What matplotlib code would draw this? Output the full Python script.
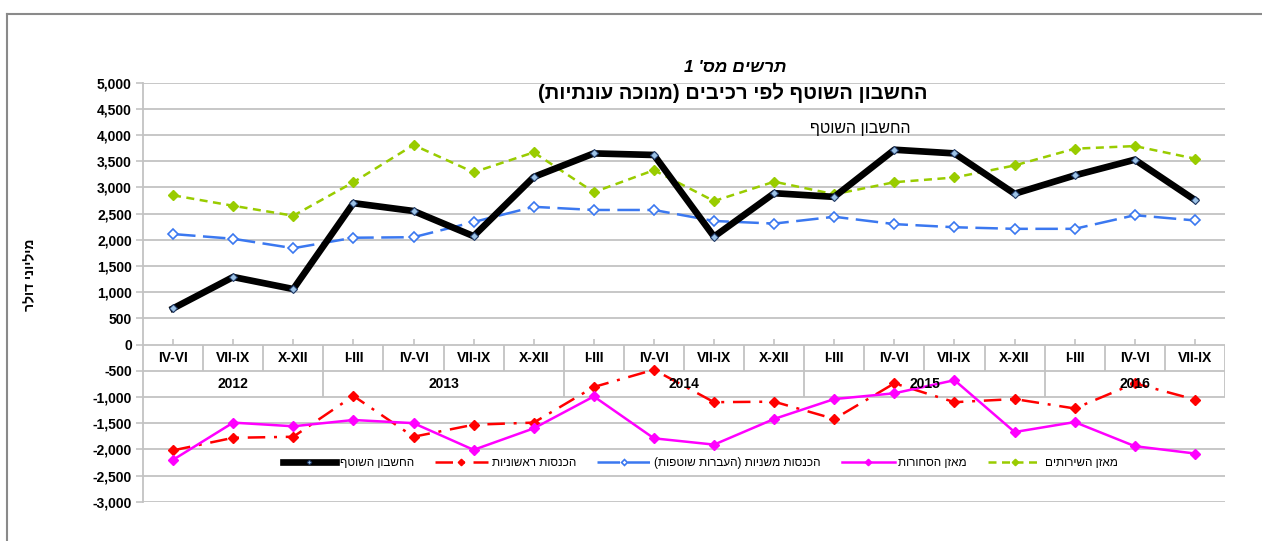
import numpy as np
import matplotlib
matplotlib.use("Agg")
import matplotlib.pyplot as plt
from matplotlib.lines import Line2D

plt.rcParams['font.family'] = ['Liberation Sans', 'DejaVu Sans']

# quarters and years (x axis table)
quarters = ["IV-VI", "VII-IX", "X-XII",
            "I-III", "IV-VI", "VII-IX", "X-XII",
            "I-III", "IV-VI", "VII-IX", "X-XII",
            "I-III", "IV-VI", "VII-IX", "X-XII",
            "I-III", "IV-VI", "VII-IX"]
years = ["2012", "2013", "2014", "2015", "2016"]
year_counts = [3, 4, 4, 4, 3]

# millions of dollars, seasonally adjusted
current_account = [690, 1290, 1060, 2700, 2550, 2070, 3200, 3650, 3620,
                   2060, 2890, 2820, 3720, 3650, 2880, 3230, 3530, 2760]
primary_income = [-2020, -1780, -1760, -980, -1760, -1530, -1490, -810, -480,
                  -1100, -1090, -1420, -740, -1100, -1040, -1220, -740, -1050]
secondary_income = [2110, 2020, 1840, 2040, 2050, 2340, 2630, 2570, 2570,
                    2360, 2310, 2440, 2300, 2240, 2210, 2210, 2470, 2370]
goods_balance = [-2200, -1490, -1560, -1440, -1500, -2010, -1600, -990, -1790,
                 -1910, -1420, -1040, -930, -680, -1670, -1480, -1940, -2080]
services_balance = [2850, 2650, 2460, 3100, 3810, 3290, 3670, 2910, 3330,
                    2740, 3110, 2870, 3100, 3190, 3420, 3740, 3790, 3550]


def heb(s):
    # matplotlib has no bidi support: reverse and mirror brackets
    return s[::-1].translate(str.maketrans("()", ")("))


fig = plt.figure(figsize=(12.62, 5.41), dpi=100)
ax = fig.add_axes([143 / 1262, 1 - 501.7 / 541, (1225 - 143) / 1262, 419 / 541])

x = np.arange(len(quarters))
grid_c = "#c3c3c3"

ax.plot(x, current_account, color="black", lw=4.8, marker="D", ms=3.8,
        mfc="#9dc3e6", mec="#1f3864", mew=0.8, label=heb("החשבון השוטף"), zorder=5)
ax.plot(x, primary_income, color="#ff0000", lw=1.8, marker="D", ms=5.5,
        dashes=(7, 3.5, 1.2, 3.5), label=heb("הכנסות ראשוניות"), zorder=4)
ax.plot(x, secondary_income, color="#3b78f0", lw=1.8, marker="D", ms=5,
        mfc="white", mec="#3b78f0", mew=1.2, dashes=(9, 3),
        label=heb("הכנסות משניות (העברות שוטפות)"), zorder=4)
ax.plot(x, goods_balance, color="#ff00ff", lw=1.8, marker="D", ms=5.5,
        label=heb("מאזן הסחורות"), zorder=4)
ax.plot(x, services_balance, color="#99cc00", lw=1.8, marker="D", ms=5.5,
        dashes=(3.2, 2.2), label=heb("מאזן השירותים"), zorder=4)

ax.set_xlim(-0.5, len(quarters) - 0.5)
ax.set_ylim(-3000, 5000)
ax.set_yticks(np.arange(-3000, 5001, 500))
ax.set_yticklabels([f"{v:,}" for v in range(-3000, 5001, 500)],
                   fontsize=10, fontweight="bold")
ax.tick_params(axis="y", length=5, color=grid_c, width=1.2, pad=3)
ax.set_xticks([])
for s in ["top", "right", "bottom"]:
    ax.spines[s].set_visible(False)
ax.spines["left"].set_color(grid_c)
ax.spines["left"].set_linewidth(1.3)
for v in range(-3000, 5001, 500):
    ax.axhline(v, color=grid_c, lw=1.3, zorder=1)

# category table under the zero line
ax.vlines(x, 0, 100, color=grid_c, lw=1.2, zorder=1)
ax.vlines(np.arange(0.5, len(quarters), 1.0), -500, 0, color=grid_c, lw=1.3, zorder=1)
for i, q in enumerate(quarters):
    ax.text(i, -250, q, ha="center", va="center", fontsize=10,
            fontweight="bold", zorder=10)
start = 0
for yr, n in zip(years, year_counts):
    end = start + n
    ax.vlines(end - 0.5, -1000, -500, color=grid_c, lw=1.3, zorder=1)
    ax.text((start + end - 1) / 2, -750, yr, ha="center", va="center",
            fontsize=10, fontweight="bold", zorder=10)
    start = end

ax.legend(loc="center", bbox_to_anchor=(0.515, 0.092), ncol=5, frameon=False,
          fontsize=8.5, handlelength=4.5, handletextpad=0.3, columnspacing=1.8,
          markerscale=0.6)

fig.text(735 / 1262, 1 - 68 / 541, heb("תרשים מס' 1"), ha="center", va="center",
         fontsize=12.5, fontweight="bold", style="italic")
fig.text(733 / 1262, 1 - 93 / 541, heb("החשבון השוטף לפי רכיבים (מנוכה עונתיות)"),
         ha="center", va="center", fontsize=14.5, fontweight="bold")
fig.text(860 / 1262, 1 - 128 / 541, heb("החשבון השוטף"), ha="center", va="center",
         fontsize=11.5)
fig.text(30 / 1262, 1 - 275 / 541, heb("מיליוני דולר"), ha="center", va="center",
         rotation=90, fontsize=10, fontweight="bold")

# outer frame
fig.add_artist(Line2D([7 / 1262, 1], [1 - 14 / 541] * 2, color="#8a8a8a", lw=1.5))
fig.add_artist(Line2D([7 / 1262] * 2, [0, 1 - 14 / 541], color="#8a8a8a", lw=1.5))

fig.savefig("out.png", dpi=100)
